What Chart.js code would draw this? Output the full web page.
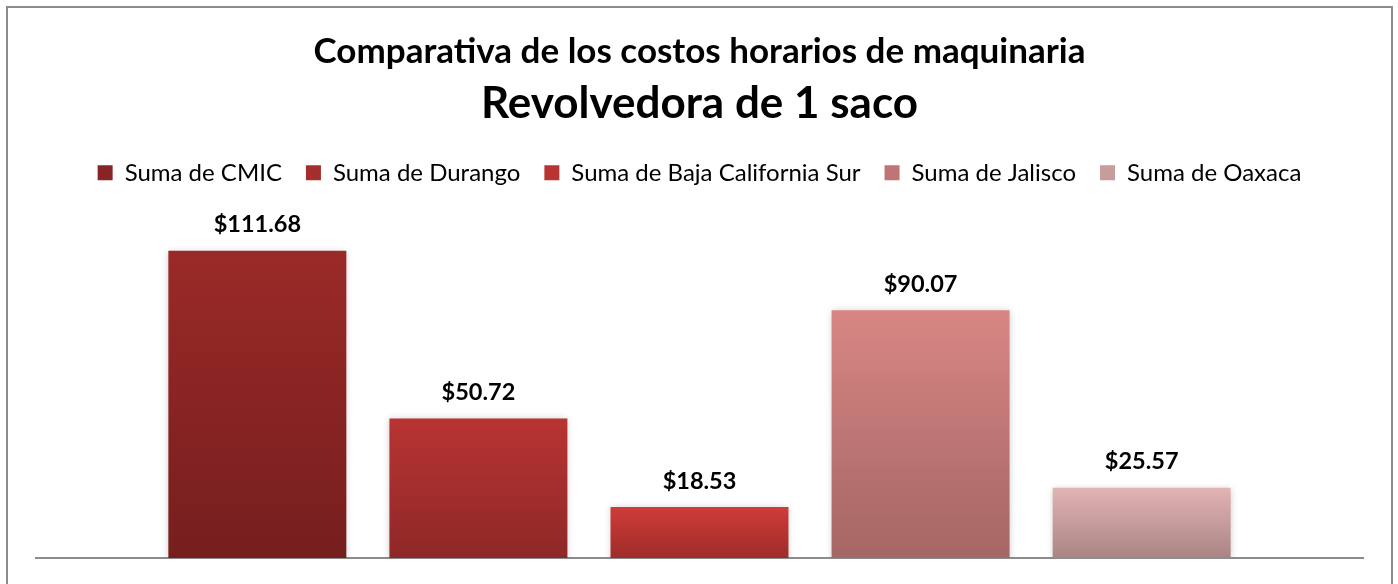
<!DOCTYPE html>
<html>
<head>
<meta charset="utf-8">
<script src="https://cdn.jsdelivr.net/npm/chart.js@4"></script>
<style>
  body { margin: 0; background: #fff; }
  canvas { display: block; }
</style>
</head>
<body>
<canvas id="costos_chart" width="1398" height="584"></canvas>
<script>
var series = ['Suma de CMIC', 'Suma de Durango', 'Suma de Baja California Sur', 'Suma de Jalisco', 'Suma de Oaxaca']
var values = [111.68, 50.72, 18.53, 90.07, 25.57]
// top / bottom colour of each bar gradient
var topColors = ['#9a2a28', '#b83432', '#d03c38', '#d88684', '#e2b4b4']
var bottomColors = ['#761e1e', '#8e2828', '#9e2c2a', '#a46664', '#aa8484']
var midColors = ['#882424', '#a32e2d', '#b73431', '#be7574', '#c69c9c']

var FONT = 'Lato'

function barGradient(i) {
  return function(ctx) {
    var chart = ctx.chart
    if (!chart.chartArea || ctx.raw === undefined) return midColors[i]
    var y = chart.scales.y
    var top = y.getPixelForValue(ctx.raw)
    var bottom = y.getPixelForValue(0)
    var g = chart.ctx.createLinearGradient(0, top, 0, bottom)
    g.addColorStop(0, topColors[i])
    g.addColorStop(1, bottomColors[i])
    return g
  }
}

var datasets = series.map(function(name, i) {
  return {
    label: name,
    data: [values[i]],
    backgroundColor: barGradient(i),
    borderWidth: 0,
    categoryPercentage: 0.833,
    barPercentage: 0.805
  }
})

var frame = {
  id: 'frame',
  beforeDraw: function(chart) {
    var c = chart.ctx
    c.save()
    c.fillStyle = '#ffffff'
    c.fillRect(0, 0, chart.width, chart.height)
    c.strokeStyle = '#8c8c8c'
    c.lineWidth = 2
    c.strokeRect(7, 7, 1385, 620)
    c.restore()
  }
}

var barShadow = {
  id: 'barShadow',
  beforeDatasetDraw: function(chart) {
    var c = chart.ctx
    c.save()
    c.shadowColor = 'rgba(0,0,0,0.22)'
    c.shadowBlur = 7
    c.shadowOffsetX = 0
    c.shadowOffsetY = 1
  },
  afterDatasetDraw: function(chart) {
    chart.ctx.restore()
  }
}

var valueLabels = {
  id: 'valueLabels',
  afterDatasetsDraw: function(chart) {
    var c = chart.ctx
    c.save()
    c.font = 'bold 23.5px ' + FONT
    c.fillStyle = '#000'
    c.textAlign = 'center'
    c.textBaseline = 'middle'
    chart.data.datasets.forEach(function(ds, i) {
      var bar = chart.getDatasetMeta(i).data[0]
      c.fillText('$' + ds.data[0].toFixed(2), bar.x, bar.y - 26)
    })
    c.restore()
  }
}

var legendGap = {
  id: 'legendGap',
  beforeInit: function(chart) {
    var fit = chart.legend.fit
    chart.legend.fit = function() {
      fit.bind(chart.legend)()
      this.height += 33
    }
  }
}

new Chart(document.getElementById('costos_chart'), {
  type: 'bar',
  data: { labels: [''], datasets: datasets },
  plugins: [frame, legendGap, barShadow, valueLabels],
  options: {
    responsive: false,
    animation: false,
    layout: { padding: { left: 36, right: 35, top: 10, bottom: 26 } },
    scales: {
      x: {
        grid: { display: false, drawTicks: false },
        ticks: { display: false },
        border: { display: true, color: '#8c8c8c', width: 2 }
      },
      y: { display: false, min: 0, max: 120 }
    },
    plugins: {
      tooltip: { enabled: false },
      title: {
        display: true,
        text: 'Comparativa de los costos horarios de maquinaria',
        color: '#000',
        font: { family: FONT, size: 35, weight: 'bold' },
        padding: { top: 21, bottom: 0 }
      },
      subtitle: {
        display: true,
        text: 'Revolvedora de 1 saco',
        color: '#000',
        font: { family: FONT, size: 44, weight: 'bold' },
        padding: { top: 4, bottom: 7 }
      },
      legend: {
        position: 'top',
        labels: {
          color: '#000',
          font: { family: FONT, size: 24 },
          boxWidth: 15,
          boxHeight: 15,
          padding: 24,
          generateLabels: function(chart) {
            return chart.data.datasets.map(function(ds, i) {
              return { text: ds.label, fillStyle: midColors[i], strokeStyle: midColors[i], lineWidth: 0, datasetIndex: i }
            })
          }
        }
      }
    }
  }
})
</script>
</body>
</html>
